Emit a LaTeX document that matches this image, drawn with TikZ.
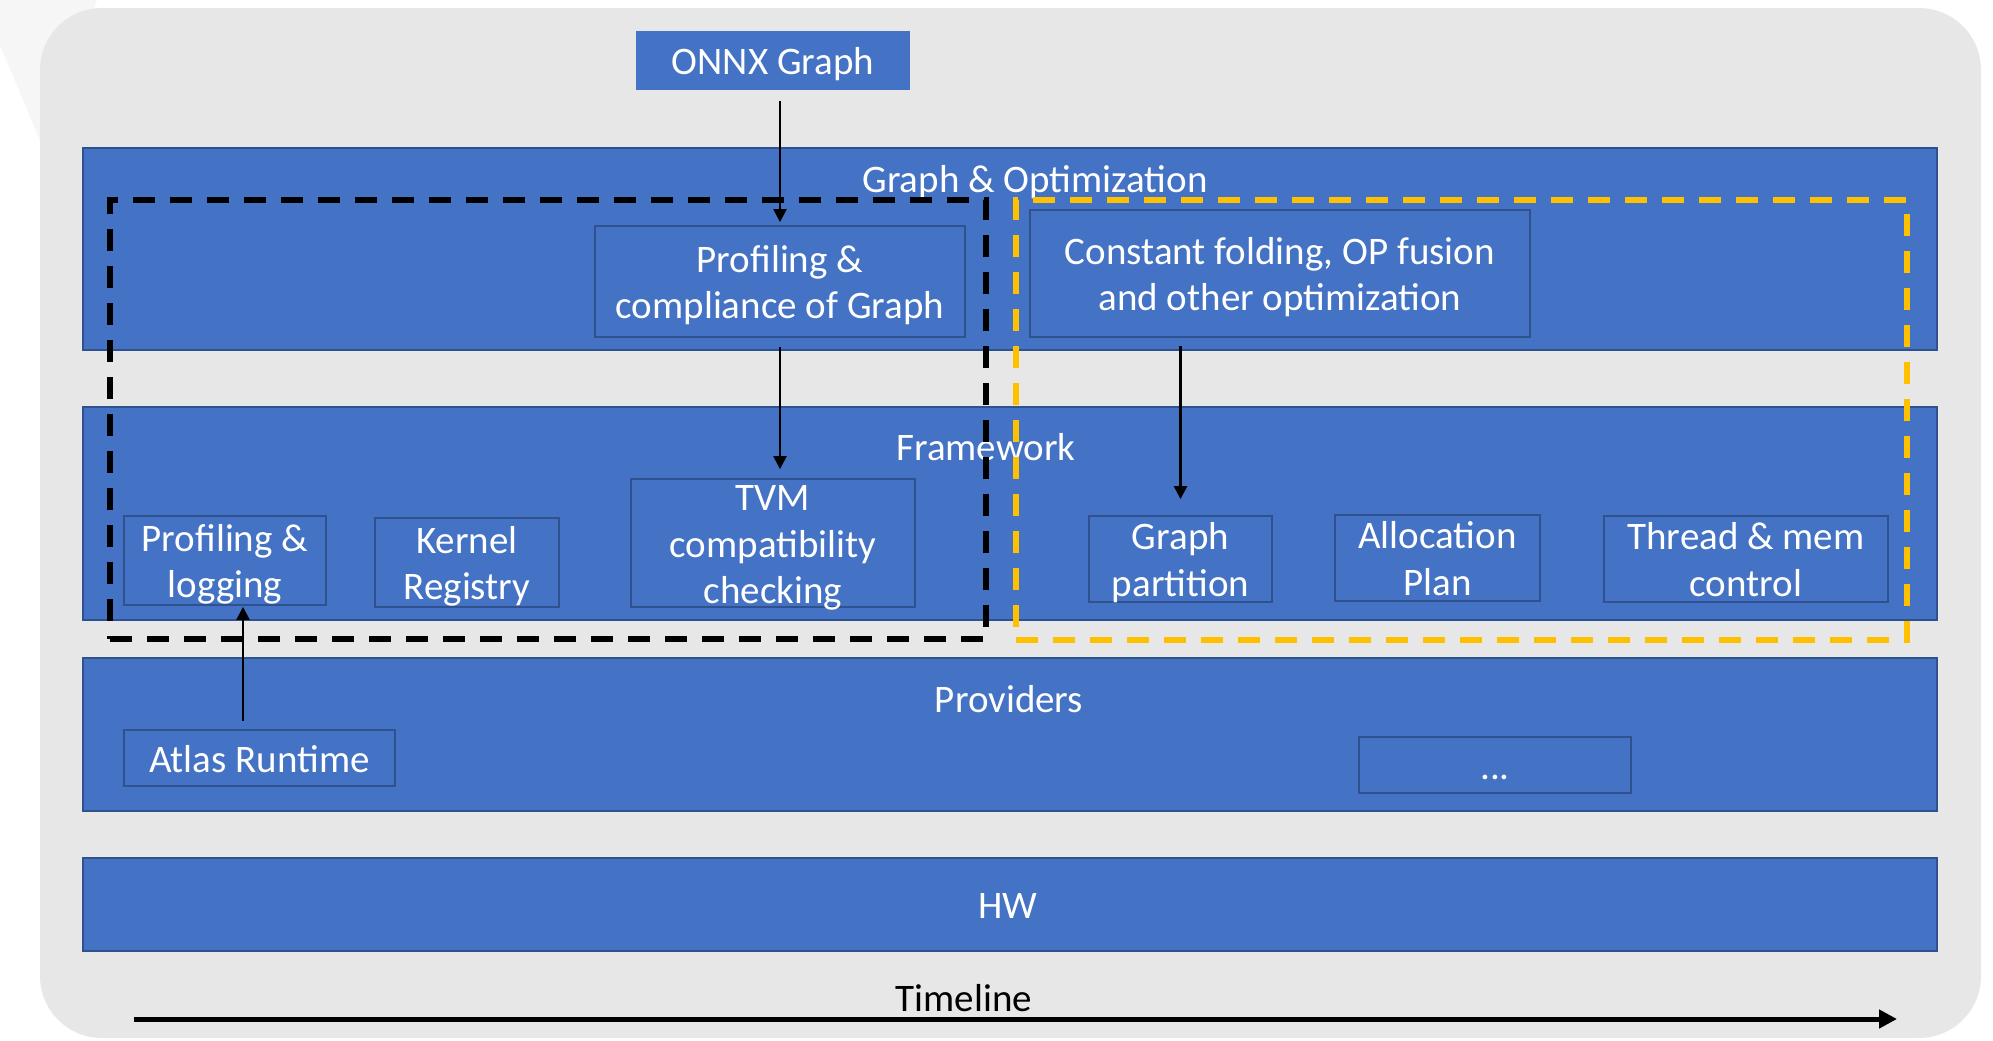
\documentclass[tikz,border=0pt]{standalone}
\usepackage{fontspec}
\setmainfont{Carlito}
\usetikzlibrary{fit,arrows.meta}

\definecolor{bandblue}{HTML}{4472C4}
\definecolor{edgeblue}{HTML}{2F528F}
\definecolor{panelgray}{HTML}{E7E7E7}
\definecolor{haze}{HTML}{F6F6F6}
\definecolor{amber}{HTML}{FFC000}

\newcommand\boxfont{\fontsize{19.5pt}{23.25pt}\selectfont}
% centred stack of lines; its extents are hidden so the frame keeps its size
\newcommand\boxtext[1]{\raisebox{-7.6pt}[0pt][0pt]{\begin{tabular}{@{}c@{}}#1\end{tabular}}}

\tikzset{
  band/.style={draw=edgeblue, line width=1pt, fill=bandblue, inner sep=0pt},
  box/.style={draw=edgeblue, line width=0.9pt, fill=bandblue, inner sep=0pt,
              text=white, font=\boxfont},
  lbl/.style={text=white, anchor=base, inner sep=0pt, font=\boxfont},
  zone/.style={line width=3pt, dash pattern=on 11pt off 7.5pt, inner sep=0pt},
  arr/.style={draw=black, line width=1.2pt, -{Triangle[length=6.5pt,width=6.5pt]}},
  timeline/.style={draw=black, line width=2.5pt, -{Triangle[length=9pt,width=9pt]}}
}

\begin{document}
\begin{tikzpicture}[x=0.5pt,y=-0.5pt]
  \useasboundingbox (0,0) rectangle (1993,1040);
  \fill[white] (0,0) rectangle (1993,1040);
  \fill[haze] (0,0) -- (97,0) -- (40,140) -- (0,45) -- cycle;

  % rounded backdrop panel
  \fill[panelgray, rounded corners=31pt] (40,8) rectangle (1981,1038);

  % layer bands
  \node[band, fit={(83,148) (1937,350)}] (gopt) {};
  \node[band, fit={(83,407) (1937,620)}] (fw) {};
  \node[band, fit={(83,658) (1937,811)}] (prov) {};
  \node[band, fit={(83,858) (1937,951)}] (hw) {};

  \node[lbl] (goptlbl) at (1035,192) {Graph \& Optimization};
  \node[lbl] (fwlbl) at (986,460) {Framework};
  \node[lbl] (provlbl) at (1009,712) {Providers};
  \node[lbl] (hwlbl) at (1008,918) {HW};

  % input graph
  \node[box, draw=bandblue, minimum width=136pt, minimum height=28.5pt] (onnx) at (773,60.5) {\boxtext{ONNX Graph}};

  % components
  \node[box, minimum width=185pt, minimum height=55.5pt] (pcg) at (780,281.5) {\boxtext{Profiling \&\\compliance of Graph}};
  \node[box, minimum width=250pt, minimum height=63.5pt] (cf) at (1280,273.5) {\boxtext{Constant folding, OP fusion\\and other optimization}};
  \node[box, minimum width=101pt, minimum height=44.5pt] (pl) at (225,560.5) {\boxtext{Profiling \&\\logging}};
  \node[box, minimum width=92pt, minimum height=44.5pt] (kr) at (467,562.5) {\boxtext{Kernel\\Registry}};
  \node[box, minimum width=142pt, minimum height=64pt] (tvm) at (773,543) {\boxtext{TVM\\compatibility\\checking}};
  \node[box, minimum width=91.5pt, minimum height=43pt] (gp) at (1180.5,559) {\boxtext{Graph\\partition}};
  \node[box, minimum width=102.5pt, minimum height=43pt] (ap) at (1437.5,558) {\boxtext{Allocation\\Plan}};
  \node[box, minimum width=142pt, minimum height=43pt] (tm) at (1746,559) {\boxtext{Thread \& mem\\control}};
  \node[box, minimum width=135.5pt, minimum height=28pt] (ar) at (259.5,758) {\boxtext{Atlas Runtime}};
  \node[box, minimum width=136pt, minimum height=28pt] (dots) at (1495,765) {\boxtext{...}};

  % dashed groupings
  \node[zone, draw=black, fit={(110,200) (986,639)}] (tvmzone) {};
  \node[zone, draw=amber, fit={(1016,200) (1907,640)}] (optzone) {};

  % data flow
  \draw[arr, shorten <=5.5pt, shorten >=1.5pt] (onnx.south -| pcg.north) -- (pcg.north);
  \draw[arr, shorten <=4.5pt, shorten >=4.5pt] (pcg.south) -- (pcg.south |- tvm.north);
  \draw[arr, shorten <=4pt, shorten >=8pt] (gp.north |- cf.south) -- (gp.north);
  \coordinate (plin) at ([xshift=9pt]pl.south);
  \draw[arr, shorten <=4pt, shorten >=0.5pt] (plin |- ar.north) -- (plin);

  % time axis
  \coordinate (tl0) at (134,1019);
  \coordinate (tl1) at (1897,1019);
  \draw[timeline] (tl0) -- (tl1);
  \node[lbl, text=black] (tllbl) at (964,1011) {Timeline};
\end{tikzpicture}
\end{document}
